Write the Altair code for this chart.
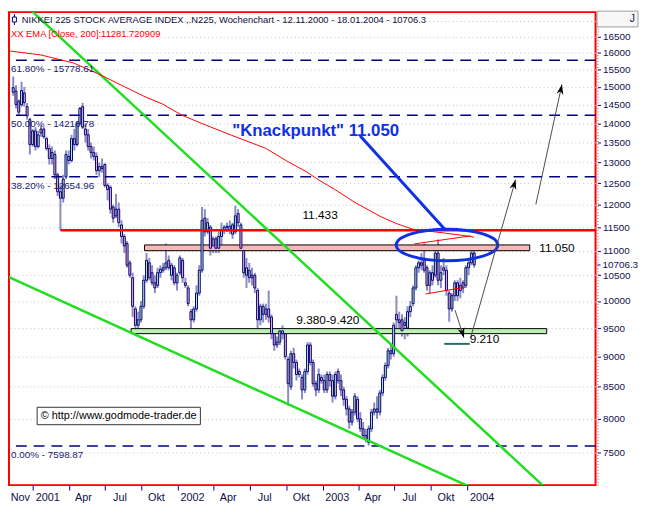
import altair as alt
import numpy as np
import pandas as pd

W, H = 594, 479
PAD = {"left": 1, "top": 1, "right": 44, "bottom": 20}
START = pd.Timestamp("2000-11-12")
FONT = "Liberation Sans"
NAVY = "#000080"

# ---- weekly candles NIKKEI 225, 12.11.2000 - 18.01.2004 ----
opens = [14850, 14880, 14600, 14500, 14830, 14450, 14100, 13450, 13800, 13400,
         13750, 13850, 13600, 13350, 13100, 13200, 12700, 12300, 12150, 12650,
         13150, 13050, 13600, 13450, 14000, 14450, 13850, 13700, 13400, 13250,
         13150, 12800, 12900, 12950, 12450, 12400, 11950, 11750, 11900, 11550,
         11300, 11150, 10750, 10450, 9850, 9550, 9650, 9900, 10400, 10750,
         10550, 10350, 10300, 10550, 10600, 10650, 10800, 10500, 10650, 10350,
         10550, 10800, 10350, 10250, 9800, 9650, 9850, 10150, 10600, 11700,
         11400, 11500, 11100, 11250, 11050, 11300, 11450, 11500, 11520, 11550,
         11400, 11800, 11550, 11000, 10500, 10600, 10450, 10500, 10200, 9650,
         9900, 9750, 9850, 9700, 9400, 9200, 9250, 9450, 9400, 8950,
         8500, 9050, 8900, 8700, 8650, 8450, 8750, 9200, 8900, 8550,
         8450, 8650, 8600, 8450, 8700, 8600, 8350, 8750, 8600, 8450,
         8300, 8150, 7950, 8100, 8300, 8000, 7850, 7750, 7650, 7850,
         8100, 8150, 8100, 8400, 8650, 8850, 9100, 9050, 9750, 9650,
         9650, 9550, 9500, 9800, 9950, 10250, 10650, 10750, 10800, 10650,
         10300, 10550, 10500, 10950, 10400, 10650, 10600, 10150, 9850, 10100,
         10350, 10200, 10350, 10300, 10650, 10750, 10950]
highs = [15300, 15050, 14650, 15150, 15000, 14550, 14150, 13850, 13900, 13800,
         13950, 13900, 13650, 13450, 13400, 13300, 12750, 12450, 12700, 13300,
         13300, 13700, 13850, 14050, 14450, 14556, 14000, 13850, 13500, 13400,
         13250, 13000, 13100, 12980, 12500, 12450, 12000, 12250, 12050, 11650,
         11350, 11200, 10800, 10550, 9900, 9800, 10000, 10500, 10950, 10850,
         10700, 10500, 10650, 10700, 10750, 11150, 10900, 10750, 10700, 10550,
         10900, 10850, 10450, 10300, 9850, 9900, 10300, 10700, 11950, 11900,
         11700, 11550, 11300, 11300, 11400, 11600, 11550, 11600, 11650, 11600,
         11979, 11900, 11600, 11050, 10850, 10750, 10650, 10550, 10250, 9950,
         9950, 9950, 10200, 9750, 9450, 9350, 9500, 9550, 9450, 9000,
         9100, 9150, 8950, 8800, 8700, 8800, 9250, 9250, 8950, 8600,
         8800, 8700, 8700, 8750, 8750, 8700, 8750, 8800, 8700, 8500,
         8350, 8200, 8150, 8400, 8350, 8100, 7950, 7850, 7900, 8150,
         8250, 8350, 8450, 8700, 8900, 9150, 9200, 9600, 10100, 9800,
         9750, 9700, 9900, 10000, 10300, 10700, 10800, 10950, 11150, 10700,
         10600, 10700, 11050, 11238, 10700, 10850, 10700, 10200, 10150, 10400,
         10400, 10450, 10400, 10700, 10800, 11000, 11020]
lows = [14750, 14400, 14200, 14450, 14450, 14100, 13200, 13400, 13300, 13350,
        13650, 13600, 13300, 12950, 12950, 12600, 12200, 11433, 12050, 12600,
        12950, 13000, 13300, 13400, 13950, 13850, 13500, 13300, 13100, 13050,
        12700, 12650, 12750, 12400, 12100, 11800, 11600, 11700, 11500, 11150,
        10950, 10650, 10450, 9700, 9400, 9450, 9600, 9850, 10350, 10400,
        10300, 10150, 10250, 10450, 10550, 10600, 10600, 10400, 10300, 10200,
        10500, 10350, 10250, 9900, 9420, 9600, 9800, 10100, 10550, 11300,
        11350, 10900, 10950, 10950, 10950, 11000, 11350, 11400, 11350, 11250,
        11350, 11500, 11000, 10450, 10250, 10350, 10300, 10150, 9500, 9550,
        9600, 9650, 9600, 9300, 9100, 9150, 9200, 9300, 8950, 8200,
        8450, 8800, 8600, 8650, 8300, 8400, 8700, 8850, 8500, 8350,
        8400, 8550, 8400, 8400, 8500, 8250, 8300, 8550, 8350, 8200,
        8050, 7850, 7900, 8050, 7950, 7800, 7700, 7650, 7603, 7800,
        8050, 8000, 8050, 8350, 8600, 8800, 8950, 9000, 9500, 9450,
        9350, 9300, 9350, 9700, 9900, 10200, 10550, 10600, 10550, 10200,
        10150, 10300, 10450, 10300, 10250, 10500, 10100, 9614, 9800, 10000,
        10000, 10050, 10150, 10250, 10500, 10700, 10650]
closes = [14980, 14510, 14300, 14900, 14560, 14200, 13450, 13800, 13400, 13700,
          13850, 13650, 13350, 13100, 13250, 12700, 12300, 12150, 12600, 13200,
          13050, 13600, 13450, 14000, 14400, 13900, 13700, 13400, 13250, 13150,
          12800, 12900, 12850, 12450, 12350, 11900, 11700, 11900, 11600, 11300,
          11100, 10700, 10500, 9900, 9550, 9650, 9900, 10400, 10800, 10450,
          10350, 10250, 10550, 10620, 10650, 10750, 10650, 10700, 10350, 10500,
          10850, 10450, 10300, 9950, 9650, 9850, 10150, 10600, 11650, 11400,
          11600, 11050, 11250, 11050, 11300, 11450, 11500, 11520, 11450, 11350,
          11750, 11600, 11050, 10550, 10650, 10450, 10500, 10250, 9650, 9900,
          9750, 9850, 9700, 9400, 9200, 9250, 9450, 9400, 9000, 8550,
          9050, 8900, 8700, 8750, 8450, 8750, 9200, 8900, 8550, 8450,
          8700, 8600, 8450, 8700, 8600, 8350, 8700, 8600, 8450, 8300,
          8150, 7950, 8100, 8350, 8000, 7850, 7750, 7700, 7850, 8100,
          8150, 8100, 8400, 8650, 8850, 9100, 9050, 9550, 9650, 9600,
          9450, 9600, 9800, 9900, 10250, 10650, 10750, 10700, 10600, 10300,
          10550, 10400, 10950, 10400, 10550, 10600, 10200, 9850, 10100, 10350,
          10100, 10300, 10250, 10650, 10750, 10950, 10706.3]

# ---- EMA(200) (week index, value) ----
ema_week = [-1.52, 10.0, 21.6, 30.8, 38.9, 47.0, 53.9, 60.8, 67.7, 79.2, 90.9,
            98.9, 105.8, 109.3, 116.2, 123.1, 132.5, 138.0, 143.9, 155.3, 164.7, 166]
ema_value = [16062, 15937, 15700, 15372, 15051, 14740, 14518, 14218, 14004, 13672,
             13355, 13022, 12766, 12606, 12336, 12050, 11728, 11581, 11456, 11374,
             11300, 11282]

# ---- Fibonacci levels ----
fib_pct = ["61.80%", "50.00%", "38.20%", "0.00%"]
fib_val = [15778.61, 14216.78, 12654.96, 7598.87]

# ---- x-axis ----
quarter_ticks = ["2001-01-01", "2001-04-01", "2001-07-01", "2001-10-01",
                 "2002-01-01", "2002-04-01", "2002-07-01", "2002-10-01",
                 "2003-01-01", "2003-04-01", "2003-07-01", "2003-10-01", "2004-01-01"]
month_labels = ["Nov", "2001", "Apr", "Jul", "Okt", "2002", "Apr", "Jul", "Okt",
                "2003", "Apr", "Jul", "Okt", "2004"]
month_label_dates = ["2000-11-30", "2001-02-07", "2001-05-08", "2001-08-08", "2001-11-08",
                     "2002-02-07", "2002-05-08", "2002-08-08", "2002-11-08",
                     "2003-02-07", "2003-05-08", "2003-08-08", "2003-11-08", "2004-02-07"]
y_ticks = list(range(7500, 17001, 500))

# ---- drawn annotations (week index, value) ----
zone_names = ["11.050", "9.380-9.420"]
zone_w1 = [47.3, 42.45]
zone_w2 = [186.0, 192.1]
zone_lo = [11000, 9400]
zone_hi = [11120, 9490]

support_level = 11433
support_from_week = 17

trend_id = ["a", "a", "b", "b"]
trend_week = [-1.52, 206.2, -1.52, 178.5]
trend_value = [18030, 6537, 10462, 6799]

arrow_id = ["up1", "up1", "up2", "up2", "dn", "dn"]
arrow_week = [188.2, 197.6, 164.7, 180.9, 159.1, 162.3]
arrow_value = [12008, 15069, 9328, 12584, 9827, 9328]
arrow_angle = [12, 15.7, 163]

redline_id = ["lo", "lo", "hi", "hi"]
redline_week = [148.5, 162.4, 144.5, 164.7]
redline_value = [10133, 10262, 11143, 11313]

pointer_week = [124.9, 155.4]
pointer_value = [13673, 11455]
ellipse_week, ellipse_value = 156.2, 11120

target_week = [155.2, 164.4]
target_value = 9220

labels_text = ["11.433", "11.050", "9.380-9.420", "9.210"]
labels_week = [110.5, 195.8, 113.3, 169.7]
labels_value = [11771, 11060, 9640, 9310]

last_close = 10706.3

# ---------------------------------------------------------------
def wk(d):
    return (pd.Timestamp(d) - START).days / 7.0


X_DOMAIN = [-1.52, 209.7]
Y_DOMAIN = [7055, 17285]
xs = alt.Scale(domain=X_DOMAIN, nice=False, zero=False, padding=0)
ys = alt.Scale(type="log", domain=Y_DOMAIN, nice=False, padding=0)

x_axis = alt.Axis(values=[wk(d) for d in quarter_ticks], labels=False, ticks=True,
                  tickSize=5, tickColor=NAVY, tickWidth=1, domain=False, grid=False, title=None)
y_axis = alt.Axis(orient="right", values=y_ticks,
                  labelExpr="datum.value >= 17000 ? '' : format(datum.value, 'd')",
                  grid=True, gridColor="#c4c4c4", gridDash=[1, 3], gridWidth=1,
                  tickSize=3, tickColor=NAVY, domain=True, domainColor="#5a5aa0",
                  domainDash=[1, 2], offset=2, labelFont=FONT, labelFontSize=10,
                  labelColor="#10104a", labelPadding=2, labelOverlap=False,
                  labelFlush=False, title=None)


def ex(f):
    return alt.X(f, type="quantitative", scale=xs, axis=x_axis, title=None)


def ey(f):
    return alt.Y(f, type="quantitative", scale=ys, axis=y_axis, title=None)


n = len(closes)
dates = pd.date_range(START, periods=n, freq="7D")
cdf = pd.DataFrame({"w": (dates - START).days / 7.0, "date": dates.strftime("%d.%m.%Y"),
                    "open": opens, "high": highs, "low": lows, "close": closes})
cdf["dir"] = np.where(cdf["close"] < cdf["open"], "down", "up")

one = pd.DataFrame({"k": [0]})

zdf = pd.DataFrame({"zone": zone_names, "w1": zone_w1, "w2": zone_w2, "v1": zone_lo, "v2": zone_hi})
zones = alt.Chart(zdf).mark_rect(stroke="black", strokeWidth=1).encode(
    x=ex("w1"), x2="w2:Q", y=ey("v1"), y2="v2:Q",
    fill=alt.Fill("zone:N", scale=alt.Scale(domain=zone_names, range=["#f6b9b9", "#bdf0b5"]), legend=None))

wick = alt.Chart(cdf).mark_rule(color="#8a8ac4", strokeWidth=2).encode(
    x=ex("w"), y=ey("low"), y2="high:Q")
body = alt.Chart(cdf).mark_bar(width=2, stroke=NAVY, strokeWidth=1).encode(
    x=ex("w"), y=ey("open"), y2="close:Q",
    fill=alt.Fill("dir:N", scale=alt.Scale(domain=["down", "up"], range=["#dd0000", "#ffffff"]), legend=None))

fdf = pd.DataFrame({"v": fib_val, "w": X_DOMAIN[0],
                    "t": [f"{p} - {v:.2f}" for p, v in zip(fib_pct, fib_val)]})
fib_rule = alt.Chart(fdf).mark_rule(color=NAVY, strokeDash=[11, 7], strokeWidth=1.5).encode(y=ey("v"))
fib_text = alt.Chart(fdf).mark_text(align="left", baseline="middle", dx=2, dy=9, font=FONT,
                                    fontSize=10, color="#202070").encode(x=ex("w"), y=ey("v"), text="t:N")

sdf = pd.DataFrame({"w1": [support_from_week], "w2": [X_DOMAIN[1]], "v": [support_level]})
support = alt.Chart(sdf).mark_rule(color="#ff0000", strokeWidth=2.5).encode(x=ex("w1"), x2="w2:Q", y=ey("v"))

tdf = pd.DataFrame({"id": trend_id, "w": trend_week, "v": trend_value})
trend = alt.Chart(tdf).mark_line(color="#22dd22", strokeWidth=2.5, clip=True).encode(
    x=ex("w"), y=ey("v"), detail="id:N")

edf = pd.DataFrame({"w": ema_week, "v": ema_value})
ema = alt.Chart(edf).mark_line(color="#ff0000", strokeWidth=1, clip=True).encode(x=ex("w"), y=ey("v"))

rdf = pd.DataFrame({"id": redline_id, "w": redline_week, "v": redline_value})
redlines = alt.Chart(rdf).mark_line(color="#ff0000", strokeWidth=1).encode(x=ex("w"), y=ey("v"), detail="id:N")

tgt = pd.DataFrame({"w": target_week, "v": [target_value] * 2})
target = alt.Chart(tgt).mark_line(color="#1f6f64", strokeWidth=2).encode(x=ex("w"), y=ey("v"))

BLUE = "#1030e8"
pdf = pd.DataFrame({"w": pointer_week, "v": pointer_value})
pointer = alt.Chart(pdf).mark_line(color=BLUE, strokeWidth=3).encode(x=ex("w"), y=ey("v"))

k, r = 0.5523, 0.31
ELLIPSE = (f"M -1 0 C -1 {-k*r:.3f} {-k:.3f} {-r} 0 {-r} C {k:.3f} {-r} 1 {-k*r:.3f} 1 0 "
           f"C 1 {k*r:.3f} {k:.3f} {r} 0 {r} C {-k:.3f} {r} -1 {k*r:.3f} -1 0 Z")
eldf = pd.DataFrame({"w": [ellipse_week], "v": [ellipse_value]})
ellipse = alt.Chart(eldf).mark_point(shape=ELLIPSE, size=10600, filled=False, stroke=BLUE,
                                     strokeWidth=3, opacity=1).encode(x=ex("w"), y=ey("v"))

adf = pd.DataFrame({"id": arrow_id, "w": arrow_week, "v": arrow_value})
shafts = alt.Chart(adf).mark_line(color="#4a4a4a", strokeWidth=1).encode(x=ex("w"), y=ey("v"), detail="id:N")
heads_df = adf.groupby("id", sort=False).last().reset_index()
heads_df["ang"] = arrow_angle
ARROW = "M 0 0 L 0.35 1 L 0 0.7 L -0.35 1 Z"
heads = alt.Chart(heads_df).mark_point(shape=ARROW, size=400, filled=True, color="black", opacity=1).encode(
    x=ex("w"), y=ey("v"), angle=alt.Angle("ang:Q", scale=None))

ldf = pd.DataFrame({"t": labels_text, "w": labels_week, "v": labels_value})
labels = alt.Chart(ldf).mark_text(font=FONT, fontSize=12, color="black", baseline="middle").encode(
    x=ex("w"), y=ey("v"), text="t:N")

kdf = pd.DataFrame({"t": ['"Knackpunkt" 11.050'], "w": [108.9], "v": [13795]})
knack = alt.Chart(kdf).mark_text(font=FONT, fontSize=17, fontWeight="bold", color=BLUE,
                                 baseline="middle").encode(x=ex("w"), y=ey("v"), text="t:N")

cpdf = pd.DataFrame({"w1": [8.62], "w2": [67.4], "v1": [7911], "v2": [8176],
                     "tw": [9.9], "tv": [8045], "t": ["\u00a9 http://www.godmode-trader.de"]})
cbox = alt.Chart(cpdf).mark_rect(fill="white", stroke="#333333", strokeWidth=1).encode(
    x=ex("w1"), x2="w2:Q", y=ey("v1"), y2="v2:Q")
ctext = alt.Chart(cpdf).mark_text(font=FONT, fontSize=11, color="black", align="left",
                                  baseline="middle").encode(x=ex("tw"), y=ey("tv"), text="t:N")

mdf = pd.DataFrame({"t": month_labels, "w": [wk(d) for d in month_label_dates]})
months = alt.Chart(mdf).mark_text(font=FONT, fontSize=11, color="#10104a", baseline="middle").encode(
    x=ex("w"), y=alt.value(H + 13), text="t:N")

lcdf = pd.DataFrame({"w": [X_DOMAIN[1]], "v": [last_close], "t": [f"{last_close:.1f}"]})
lastlab = alt.Chart(lcdf).mark_text(font=FONT, fontSize=10, color="#10104a", align="left",
                                    baseline="middle", dx=7).encode(x=ex("w"), y=ey("v"), text="t:N")
lasttick = alt.Chart(lcdf).mark_rule(color=NAVY).encode(
    x=alt.value(W + 2), x2=alt.value(W + 5), y=ey("v"))

title1 = alt.Chart(one).mark_text(
    text="NIKKEI 225 STOCK AVERAGE INDEX ,.N225, Wochenchart - 12.11.2000 - 18.01.2004 - 10706.3",
    font=FONT, fontSize=9.5, color="#101040", align="left", baseline="middle").encode(
    x=alt.value(13), y=alt.value(8))
title2 = alt.Chart(one).mark_text(
    text="XX EMA [Close, 200]:11281.720909", font=FONT, fontSize=9.5, color="#ff0000",
    align="left", baseline="middle").encode(x=alt.value(2), y=alt.value(22))
icon_rule = alt.Chart(one).mark_rule(color=NAVY).encode(x=alt.value(5.5), y=alt.value(2), y2=alt.value(13))
icon_box = alt.Chart(one).mark_rect(fill="white", stroke=NAVY, strokeWidth=1).encode(
    x=alt.value(3.5), x2=alt.value(7.5), y=alt.value(5), y2=alt.value(10))

hdr_box = alt.Chart(one).mark_rect(fill="#f7f7f7", stroke="#9a9a9a", strokeWidth=1).encode(
    x=alt.value(W + 1.5), x2=alt.value(W + 43), y=alt.value(-1), y2=alt.value(15))
hdr_text = alt.Chart(one).mark_text(text="J", font=FONT, fontSize=10.5, color="#10104a",
                                    align="right", baseline="middle").encode(
    x=alt.value(W + 40), y=alt.value(7))

chart = alt.layer(
    wick, zones, body, fib_rule, support, trend, ema, redlines, target, pointer, ellipse,
    shafts, heads, labels, knack, fib_text, cbox, ctext, months, lastlab, lasttick,
    icon_rule, icon_box, title1, title2, hdr_box, hdr_text
).properties(
    width=W, height=H, padding=PAD, autosize=alt.AutoSizeParams(type="none")
).configure(
    background="white",
    view=alt.ViewConfig(stroke="#ff0000", strokeWidth=2)
)

chart.save("out.html", embed_options={"renderer": "svg", "actions": False})
